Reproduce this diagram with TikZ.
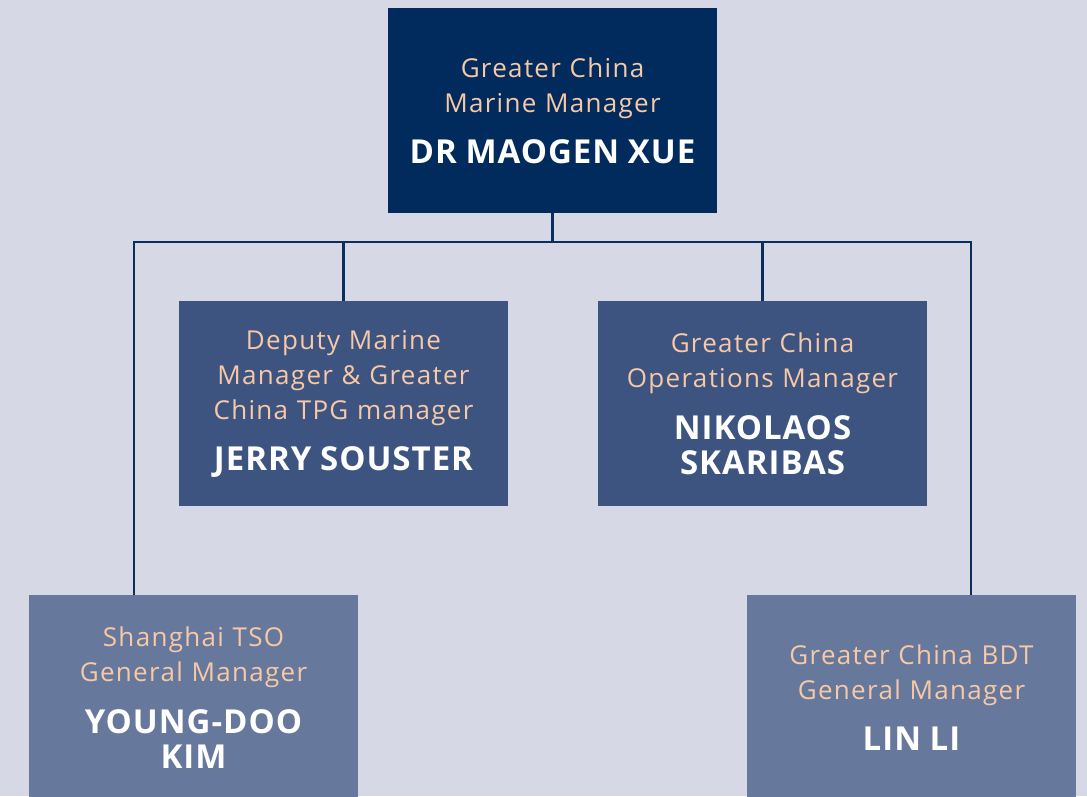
\documentclass[tikz,border=0pt]{standalone}
\usepackage{fontspec}
\setmainfont{Open Sans}[LetterSpace=5, BoldFeatures={LetterSpace=3}]
\usetikzlibrary{positioning}

\begin{document}
\begin{tikzpicture}[x=1pt,y=1pt]
\definecolor[named]{bgColor}{rgb}{0.84,0.85,0.90}
\definecolor[named]{topColor}{rgb}{0.00,0.17,0.36}
\definecolor[named]{midColor}{rgb}{0.24,0.33,0.50}
\definecolor[named]{lowColor}{rgb}{0.40,0.47,0.61}
\definecolor[named]{roleColor}{rgb}{0.97,0.79,0.65}
\definecolor[named]{lineColor}{rgb}{0.04,0.18,0.37}
\tikzset{
  box/.style={inner sep=0pt, outer sep=0pt, minimum width=329, minimum height=205,
    text width=325, align=center, text=roleColor, font=\fontsize{26}{35}\selectfont},
  wire/.style={draw=lineColor, line width=2.4pt}
}
\newcommand{\who}[1]{{\color{white}\fontsize{33}{36}\selectfont\bfseries #1}}
\path[use as bounding box,fill=bgColor] (0,0) rectangle (1087,796);
\begin{scope}
\path[clip] (0,0) rectangle (1087,796);

% boxes
\node[box,fill=topColor] (top) at (552.5,685.5)
  {Greater China\\Marine Manager\\[16pt]\who{DR MAOGEN XUE}};
\node[box,fill=midColor] (dep) at (343.5,392.5)
  {Deputy Marine\\Manager \& Greater\\China TPG manager\\[16pt]\who{JERRY SOUSTER}};
\node[box,fill=midColor] (ops) at (762.5,392.5)
  {Greater China\\Operations Manager\\[16pt]\who{NIKOLAOS\\SKARIBAS}};
\node[box,fill=lowColor] (tso) at (193.5,98.5)
  {Shanghai TSO\\General Manager\\[16pt]\who{YOUNG-DOO\\KIM}};
\node[box,fill=lowColor] (bdt) at (911.5,98.5)
  {Greater China BDT\\General Manager\\[16pt]\who{LIN LI}};

% connectors
\coordinate (bus) at (0,554);
\coordinate (tsoin) at ([xshift=-59.5]tso.north);
\coordinate (bdtin) at ([xshift=59.5]bdt.north);
\draw[wire] (top.south) -- (top.south |- bus);
\draw[wire] (tsoin) -- (tsoin |- bus) -- (bdtin |- bus) -- (bdtin);
\draw[wire] (dep.north) -- (dep.north |- bus);
\draw[wire] (ops.north) -- (ops.north |- bus);
\end{scope}
\end{tikzpicture}
\end{document}
